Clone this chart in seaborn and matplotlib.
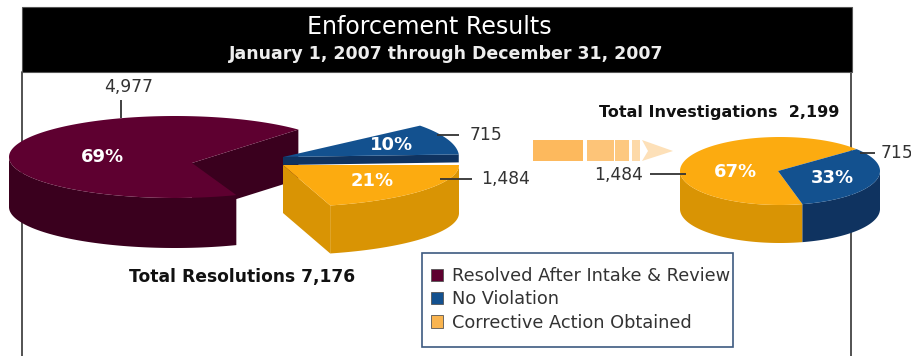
import numpy as np
import matplotlib
matplotlib.use("Agg")
import matplotlib.pyplot as plt
from matplotlib.patches import Patch, Polygon, Rectangle
import seaborn as sns

# Case counts for the 2007 enforcement year
resolved = 4977
no_violation = 715
corrective = 1484
total_resolutions = resolved + no_violation + corrective
total_investigations = no_violation + corrective
legend_labels = ["Resolved After Intake & Review", "No Violation", "Corrective Action Obtained"]

sns.set_theme(style="white")
plt.rcParams["font.family"] = ["DejaVu Sans"]

top_colors = sns.color_palette(["#5e0030", "#13518f", "#fcab10"])
side_colors = sns.color_palette(["#3a001e", "#0f3360", "#d99404"])
legend_colors = sns.color_palette(["#5e0030", "#13518f", "#f9b44f"])
MAROON, BLUE, ORANGE = 0, 1, 2

fig = plt.figure(figsize=(9.12, 3.56), dpi=100, facecolor="white")
ax = fig.add_axes([0, 0, 1, 1])
ax.set_xlim(0, 912)
ax.set_ylim(356, 0)
ax.axis("off")


def rim(centre, rx, ry, t0, t1, n=361):
    t = np.radians(np.linspace(t0, t1, n))
    return np.column_stack([centre[0] + rx * np.cos(t), centre[1] - ry * np.sin(t)]), np.sin(t)


def slice3d(apex, centre, rx, ry, depth, t0, share, kind, z, cut_at=None):
    """Extruded wedge covering `share` of the circle, running counter-clockwise from t0."""
    t1 = t0 + 360 * share
    pts, s = rim(centre, rx, ry, t0, t1)
    down = np.array([0, depth])
    apex = np.asarray(apex, float)
    # Flat cut faces seen from the front
    for end in cut_at or []:
        edge = pts[end]
        face = [apex, edge, edge + down, apex + down]
        ax.add_patch(Polygon(face, fc=side_colors[kind], ec="none", zorder=z))
    # Curved outer wall: only the near half of the rim shows
    near = pts[s <= 0.001]
    if len(near):
        wall = np.vstack([near, (near + down)[::-1]])
        ax.add_patch(Polygon(wall, fc=side_colors[kind], ec="none", zorder=z + 0.1))
    ax.add_patch(Polygon(np.vstack([apex, pts]), fc=top_colors[kind], ec="none", zorder=z + 0.2))


# Page frame and title band
for x in (22, 851):
    ax.plot([x, x], [72, 356], color="#444444", lw=1.3, zorder=1)
ax.add_patch(Rectangle((22, 7), 830, 65, fc="black", ec="#555555", lw=0.8, zorder=2))
ax.text(429, 27, "Enforcement Results", color="white", fontsize=17, ha="center", va="center", zorder=3)
ax.text(446, 54, "January 1, 2007 through December 31, 2007", color="#eeeeee", fontsize=12.5,
        fontweight="bold", ha="center", va="center", zorder=3)

# Left pie: the large slice, with the two smaller slices pulled out to the right
slice3d((192, 163), (175, 157), 166, 41, 50, 42, resolved / total_resolutions, MAROON, 3, cut_at=[0])
slice3d((283, 157), (283, 157), 176, 50, 8, 3, no_violation / total_resolutions, BLUE, 4, cut_at=[0])
share = corrective / total_resolutions
slice3d((283, 165), (283, 165), 176, 42, 48, -360 * share, share, ORANGE, 5, cut_at=[0])

# Right pie: investigations only
inv_cor = corrective / total_investigations
inv_nov = no_violation / total_investigations
slice3d((778, 171), (780, 171), 100, 34, 38, 40, inv_cor, ORANGE, 6)
slice3d((778, 171), (780, 171), 100, 34, 38, 40 + 360 * inv_cor, inv_nov, BLUE, 6)

# Arrow between the two pies
arrow_tones = ["#fdb95d", "#fdc478", "#fdc87f", "#fdd9a8"]
for (x0, x1), tone in zip([(533, 583), (587, 614), (615, 629), (632, 640)], arrow_tones):
    ax.add_patch(Rectangle((x0, 140), x1 - x0, 21, fc=tone, ec="none", zorder=3))
ax.add_patch(Polygon([(642, 140), (673, 151), (642, 161), (648, 151)], fc="#fde0b8", ec="none", zorder=3))

# Leader lines and counts
leaders = [((121, 121), (100, 118)), ((437, 459), (135, 135)), ((440, 472), (179, 179)),
           ((650, 686), (174, 174)), ((860, 875), (153, 153))]
for xs, ys in leaders:
    ax.plot(xs, ys, color="#333333", lw=1.3, zorder=8, solid_capstyle="butt")
count_style = dict(color="#333333", fontsize=12.3, va="center", zorder=8)
ax.text(129, 87, f"{resolved:,}", ha="center", **count_style)
ax.text(470, 135, f"{no_violation:,}", ha="left", **count_style)
ax.text(481, 179, f"{corrective:,}", ha="left", **count_style)
ax.text(643, 175, f"{corrective:,}", ha="right", **count_style)
ax.text(881, 153, f"{no_violation:,}", ha="left", **count_style)

# Percentages on the slices
pct_style = dict(color="white", fontsize=13, fontweight="bold", ha="center", va="center", zorder=9)
ax.text(102, 157, f"{resolved / total_resolutions:.0%}", **pct_style)
ax.text(392, 145, f"{no_violation / total_resolutions:.0%}", **pct_style)
ax.text(372, 181, f"{corrective / total_resolutions:.0%}", **pct_style)
ax.text(735, 172, f"{inv_cor:.0%}", **pct_style)
ax.text(832, 178, f"{inv_nov:.0%}", **pct_style)

# Totals
total_style = dict(color="#111111", fontweight="bold", va="center", zorder=9)
ax.text(129, 277, f"Total Resolutions {total_resolutions:,}", ha="left", fontsize=12.3, **total_style)
ax.text(599, 113, f"Total Investigations  {total_investigations:,}", ha="left", fontsize=11.5, **total_style)

# Legend, with its box drawn separately so the side and top margins can differ
ax.add_patch(Rectangle((422, 253), 311, 94, fc="white", ec="#3d5a80", lw=1.2, zorder=9))
handles = [Patch(fc=c, ec="#555555", lw=0.6) for c in legend_colors]
leg = ax.legend(handles, legend_labels, loc="upper left", bbox_to_anchor=(431, 267),
                bbox_transform=ax.transData, fontsize=12.75, frameon=False,
                labelcolor="#333333", handlelength=0.7, handleheight=0.7, handletextpad=0.46,
                labelspacing=0.3, borderpad=0, borderaxespad=0)
leg.set_zorder(10)

fig.savefig("out.png", dpi=100, facecolor="white")
